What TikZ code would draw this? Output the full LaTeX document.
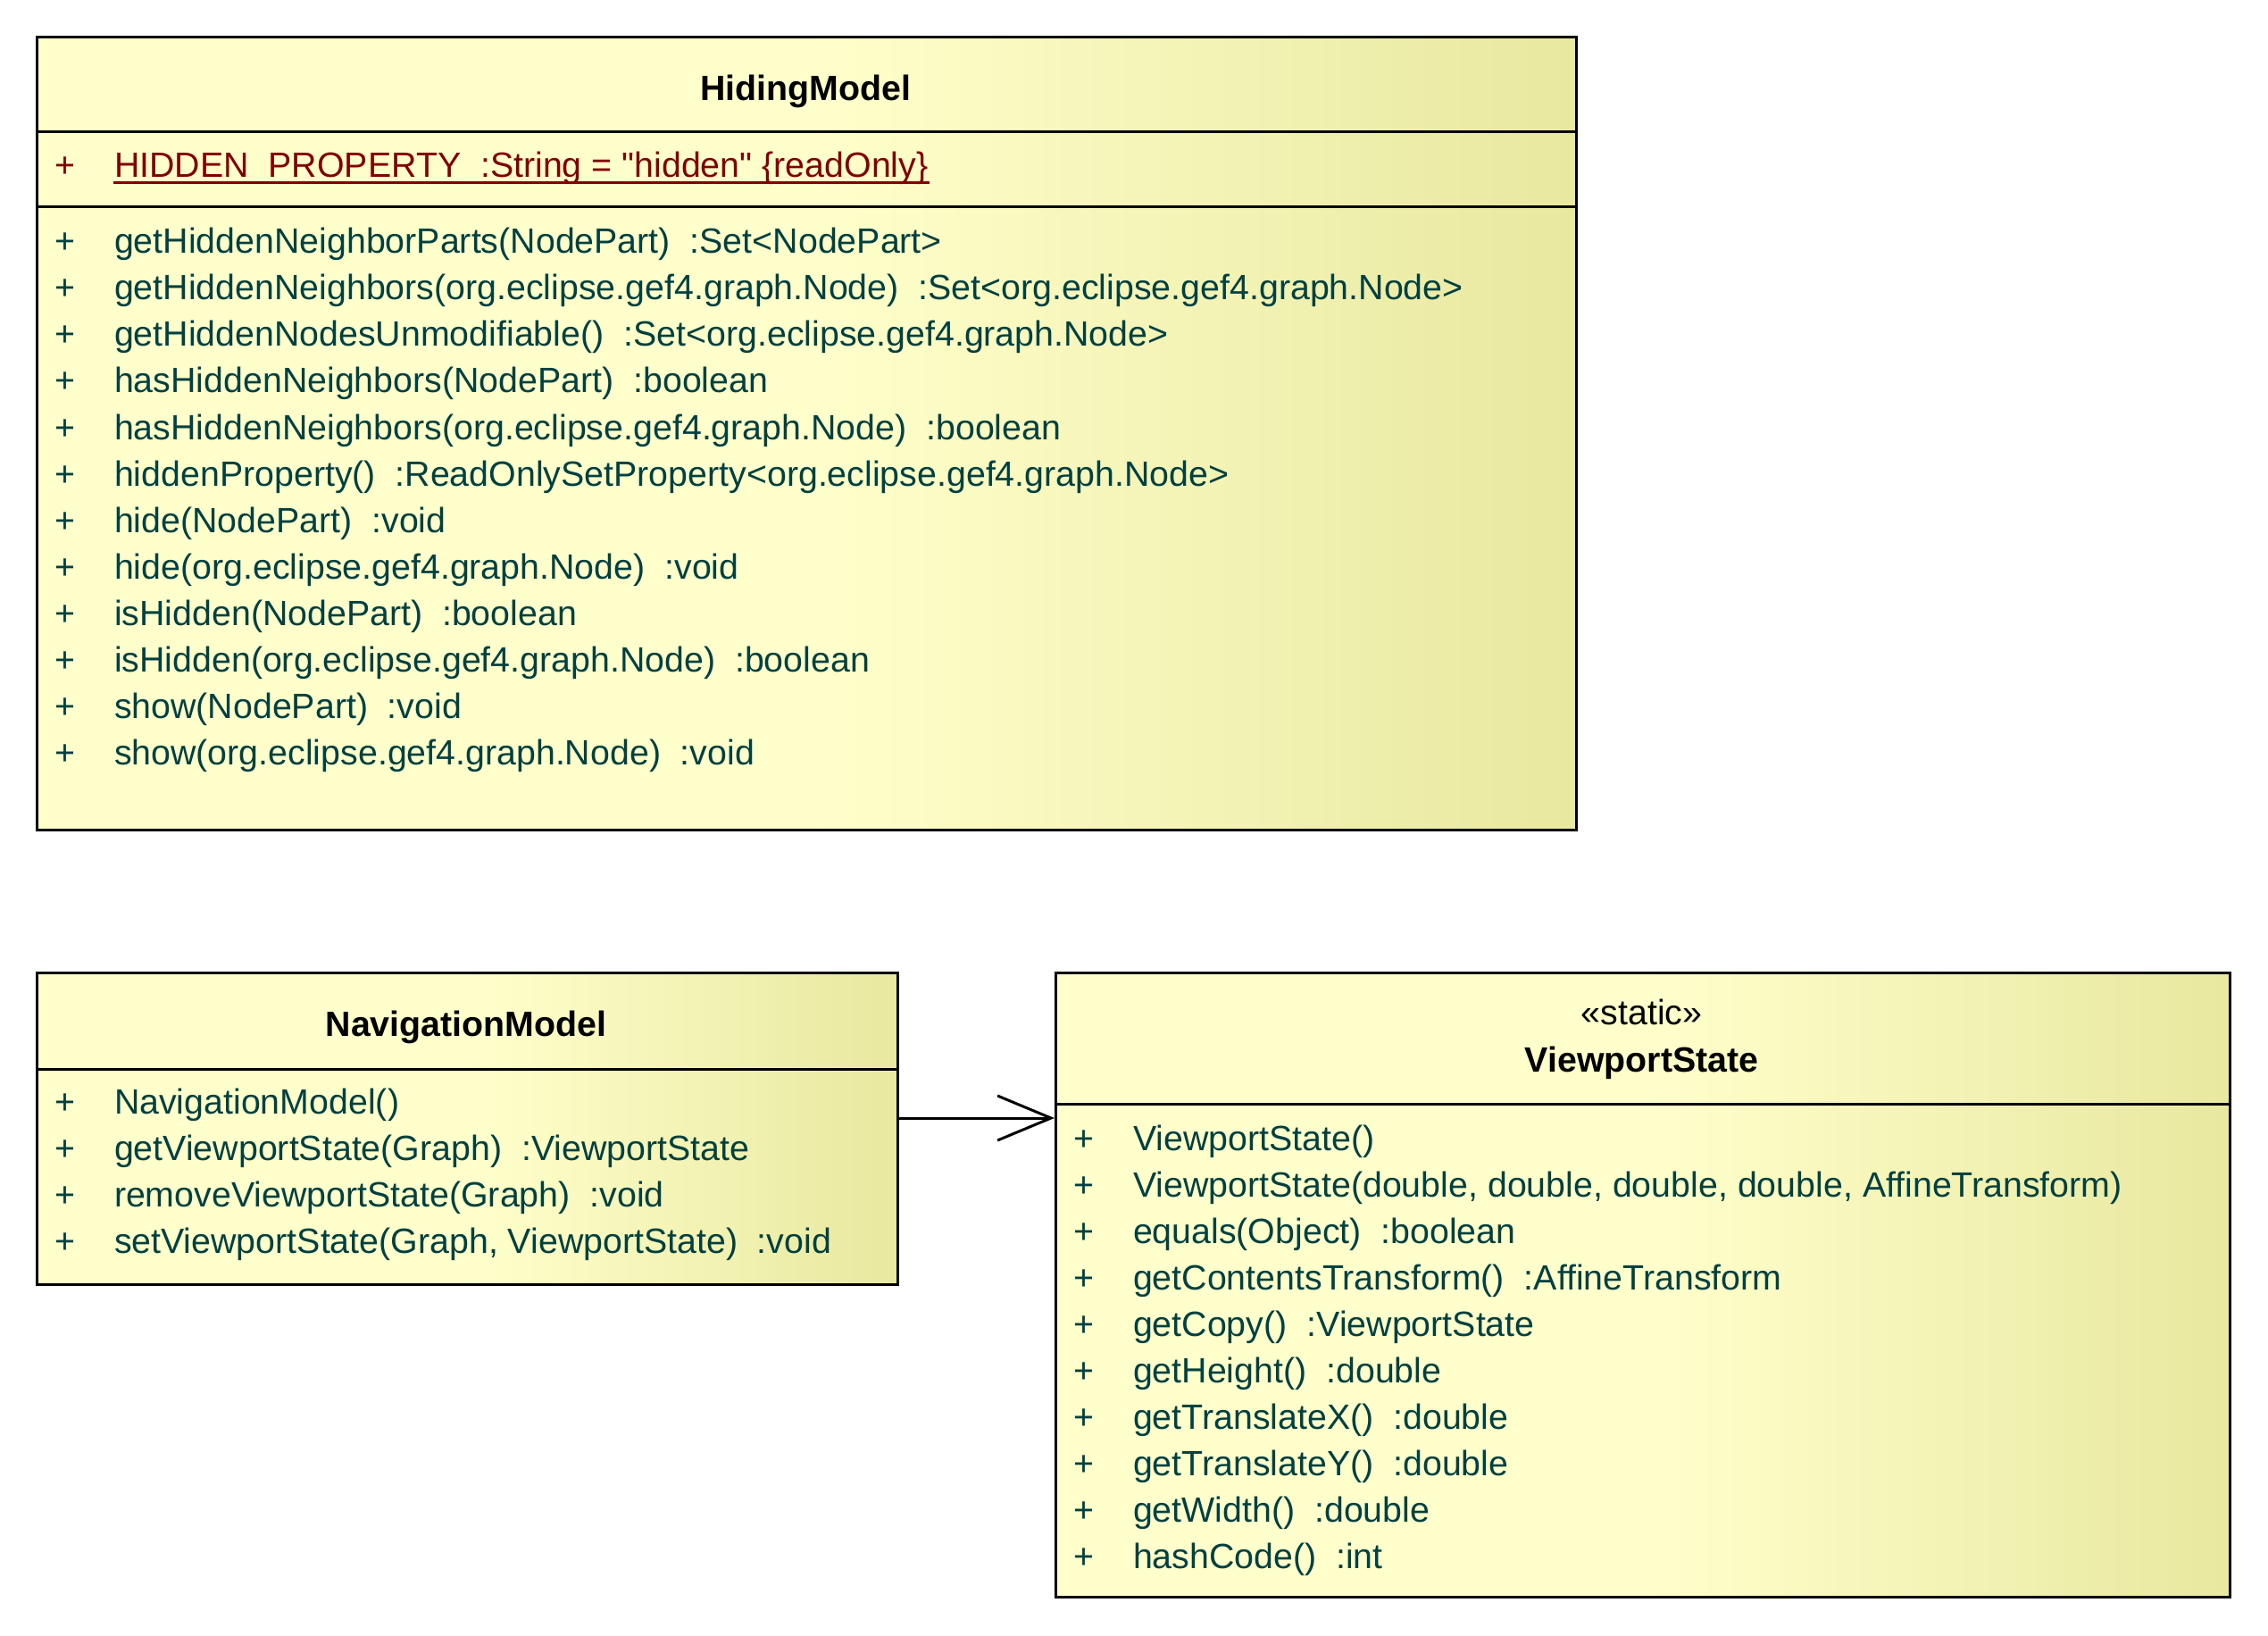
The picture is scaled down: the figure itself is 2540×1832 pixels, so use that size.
\documentclass[tikz,border=0pt]{standalone}
\usepackage{fontspec}
\setmainfont{Liberation Sans}[Ligatures=TeXOff]
\usetikzlibrary{arrows.meta,positioning}

\definecolor{umlLight}{RGB}{255,255,204}
\definecolor{umlDark}{RGB}{232,232,160}
\definecolor{opText}{RGB}{0,64,64}
\definecolor{attrText}{RGB}{128,0,0}
% flat on the left half, fading to the darker yellow on the right
\pgfdeclarehorizontalshading{classfill}{100bp}{color(0bp)=(umlLight); color(50bp)=(umlLight); color(75bp)=(umlDark); color(100bp)=(umlDark)}

\begin{document}
\begin{tikzpicture}[
    x=0.3pt, y=-0.3pt,
    >={Straight Barb[length=18pt, width=15pt]},
    line width=0.9pt,
    classbox/.style={draw, line width=0.9pt, shading=classfill, anchor=north west, inner sep=0pt},
    title/.style={font=\fontsize{11.8}{14}\selectfont\bfseries, anchor=base, inner sep=0pt},
    stereo/.style={font=\fontsize{11.8}{14}\selectfont, anchor=base, inner sep=0pt},
    member/.style={font=\fontsize{11.8}{14}\selectfont, text=opText, anchor=base west, inner sep=0pt},
    attr/.style={member, text=attrText}
]

    % --- 0. page size ---
    \useasboundingbox (0,0) rectangle (2540,1832);

    % --- 1. class boxes ---
    \node[classbox, minimum width=517.2pt, minimum height=266.4pt] (hiding) at (40,40) {};
    \node[classbox, minimum width=289.2pt, minimum height=104.7pt] (navmodel) at (40,1088) {};
    \node[classbox, minimum width=394.5pt, minimum height=209.7pt] (viewstate) at (1181,1088) {};

    % compartment lines
    \draw (hiding.west |- 0,148) -- (hiding.east |- 0,148);
    \draw (hiding.west |- 0,232) -- (hiding.east |- 0,232);
    \draw (navmodel.west |- 0,1197) -- (navmodel.east |- 0,1197);
    \draw (viewstate.west |- 0,1236) -- (viewstate.east |- 0,1236);

    % --- 2. class names ---
    \node[title] (hidingname) at (902,113) {HidingModel};
    \node[title] (navname) at (522,1160) {NavigationModel};
    \node[stereo] (viewstereo) at (1838.5,1147) {«static»};
    \node[title] (viewname) at (1838.5,1200) {ViewportState};

    % --- 3. attributes ---
    \node[attr] (hidattrplus) at (60,199) {+};
    \node[attr] (hidattr) at (126.5,199) {HIDDEN\_PROPERTY\ \ :String = "hidden" \{readOnly\}};
    \draw[attrText, line width=0.8pt] ([yshift=-1.6pt]hidattr.base west) -- ([yshift=-1.6pt]hidattr.base east);

    % --- 4. operations ---
    % #1: name prefix, #2: box left x, #3: first baseline, #4: list
    \newcommand{\drawMembers}[4]{
        \foreach \txt [count=\i] in {#4} {
            \node[member] (#1plus\i) at (#2+20, {#3+52*(\i-1)}) {+};
            \node[member] (#1op\i) at (#2+86.5, {#3+52*(\i-1)}) {\txt};
        }
    }

    \drawMembers{hid}{40}{284}{
        {getHiddenNeighborParts(NodePart)\ \ :Set<NodePart>},
        {getHiddenNeighbors(org.eclipse.gef4.graph.Node)\ \ :Set<org.eclipse.gef4.graph.Node>},
        {getHiddenNodesUnmodifiable()\ \ :Set<org.eclipse.gef4.graph.Node>},
        {hasHiddenNeighbors(NodePart)\ \ :boolean},
        {hasHiddenNeighbors(org.eclipse.gef4.graph.Node)\ \ :boolean},
        {hiddenProperty()\ \ :ReadOnlySetProperty<org.eclipse.gef4.graph.Node>},
        {hide(NodePart)\ \ :void},
        {hide(org.eclipse.gef4.graph.Node)\ \ :void},
        {isHidden(NodePart)\ \ :boolean},
        {isHidden(org.eclipse.gef4.graph.Node)\ \ :boolean},
        {show(NodePart)\ \ :void},
        {show(org.eclipse.gef4.graph.Node)\ \ :void}}

    \drawMembers{nav}{40}{1247}{
        {NavigationModel()},
        {getViewportState(Graph)\ \ :ViewportState},
        {removeViewportState(Graph)\ \ :void},
        {setViewportState(Graph, ViewportState)\ \ :void}}

    \drawMembers{view}{1181}{1288}{
        {ViewportState()},
        {ViewportState(double, double, double, double, AffineTransform)},
        {equals(Object)\ \ :boolean},
        {getContentsTransform()\ \ :AffineTransform},
        {getCopy()\ \ :ViewportState},
        {getHeight()\ \ :double},
        {getTranslateX()\ \ :double},
        {getTranslateY()\ \ :double},
        {getWidth()\ \ :double},
        {hashCode()\ \ :int}}

    % --- 5. association ---
    \coordinate (navout) at (navmodel.east |- 0,1252);
    \draw[->] (navout) -- (navout -| viewstate.west);

\end{tikzpicture}
\end{document}
